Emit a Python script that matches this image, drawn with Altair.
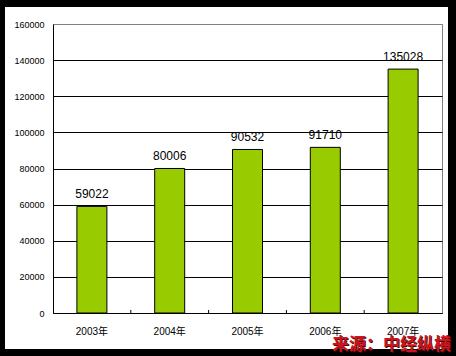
import altair as alt
import pandas as pd

years = ["2003年", "2004年", "2005年", "2006年", "2007年"]
values = [59022, 80006, 90532, 91710, 135028]
y_ticks = [0, 20000, 40000, 60000, 80000, 100000, 120000, 140000, 160000]
source_text = "来源：中经纵横"

df = pd.DataFrame({"year": years, "value": values})
tick_df = pd.DataFrame({"year": years[1:]})
one = pd.DataFrame({"a": [0]})

FONT = "Liberation Sans, Noto Sans CJK SC"
W, H = 389, 289
L, T = 53, 24

xscale = alt.Scale(domain=years, paddingInner=0, paddingOuter=0)
yscale = alt.Scale(domain=[0, 160000], nice=False)
yaxis = alt.Axis(title=None, values=y_ticks, tickCount=20, grid=True,
                 gridColor=alt.condition("datum.value >= 160000", alt.value("#808080"), alt.value("black")),
                 gridOpacity=1, ticks=False,
                 domainColor="black", labelFontSize=9, labelFont=FONT,
                 labelColor="black", labelPadding=9, format="d",
                 labelOverlap=False, labelFlush=False)

bars = alt.Chart(df).mark_bar(width=30, color="#99CC00", stroke="black", strokeWidth=1).encode(
    x=alt.X("year:N", scale=xscale, sort=years,
            axis=alt.Axis(title=None, labelAngle=0, ticks=False, domainColor="black",
                          labelFontSize=10, labelFont=FONT, labelColor="black",
                          labelPadding=13)),
    y=alt.Y("value:Q", scale=yscale, axis=yaxis),
)

labels = alt.Chart(df).mark_text(fontSize=12, font=FONT, color="black",
                                 baseline="alphabetic", dy=-8).encode(
    x=alt.X("year:N", scale=xscale, sort=years),
    y=alt.Y("value:Q", scale=yscale),
    text=alt.Text("value:Q", format="d"),
)

xticks = alt.Chart(tick_df).mark_rule(color="black", strokeWidth=1).encode(
    x=alt.X("year:N", scale=xscale, sort=years, bandPosition=0),
    y=alt.value(H - 3),
    y2=alt.value(H),
)

def strip(x0, x1, y0, y1):
    return alt.Chart(one).mark_rect(color="black").encode(
        x=alt.value(x0), x2=alt.value(x1), y=alt.value(y0), y2=alt.value(y1)
    )

border = [
    strip(-L, 5 - L, -T, 356 - T),
    strip(-L, 456 - L, -T, 7 - T),
    strip(448 - L, 456 - L, -T, 356 - T),
    strip(-L, 456 - L, 349 - T, 356 - T),
]

shadow = alt.Chart(one).mark_text(text=source_text, fontSize=17, fontWeight="bold",
                                  font="Noto Sans CJK SC", color="#3a0a0a",
                                  align="right", baseline="alphabetic").encode(
    x=alt.value(452 - L), y=alt.value(351 - T)
)
src = alt.Chart(one).mark_text(text=source_text, fontSize=17, fontWeight="bold",
                               font="Noto Sans CJK SC", color="#D0141E",
                               align="right", baseline="alphabetic").encode(
    x=alt.value(451 - L), y=alt.value(350 - T)
)

chart = alt.layer(bars, labels, xticks, *border, shadow, src).properties(
    width=W, height=H,
    autosize=alt.AutoSizeParams(type="none"),
    padding={"left": L, "top": T, "right": 456 - L - W, "bottom": 356 - T - H},
    background="white",
).configure_view(stroke="#808080", strokeWidth=1)

chart.save("out.html", embed_options={"renderer": "svg", "actions": False})
